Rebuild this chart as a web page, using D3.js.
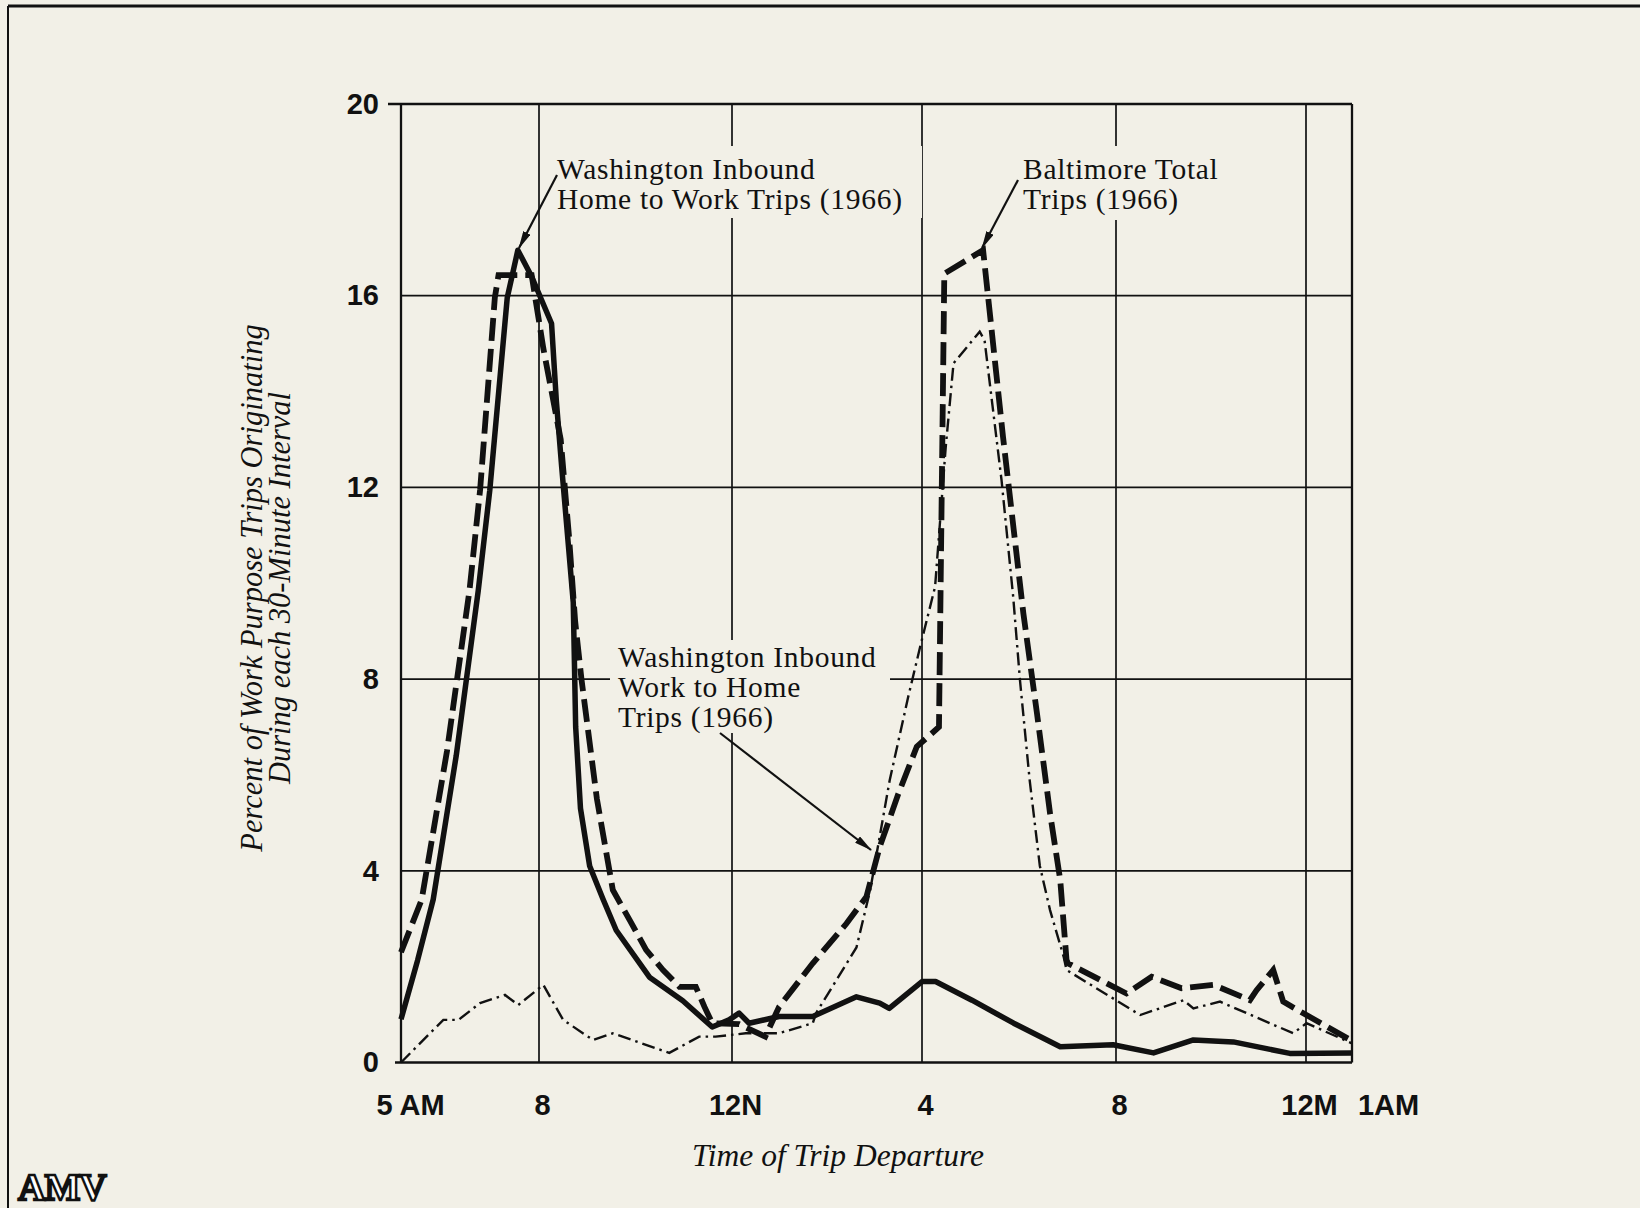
<!DOCTYPE html>
<html>
<head>
<meta charset="utf-8">
<script src="https://cdn.jsdelivr.net/npm/d3@7"></script>
<style>
  body { margin: 0; background: #f2f0e7; }
  svg { display: block; }
</style>
</head>
<body>
<svg id="chart" width="1640" height="1208"></svg>
<script>
// x is hours after 5 AM, y is percent of trips
var tickHours = [0, 3, 7, 11, 15, 19, 20];
var tickLabels = ["5 AM", "8", "12N", "4", "8", "12M", "1AM"];
var yTicks = [0, 4, 8, 12, 16, 20];

// Washington inbound, home to work (solid)
var h2wTime  = [0, 0.36, 0.7, 1.2, 1.68, 1.93, 2.31, 2.54, 2.84, 3.26, 3.36, 3.47, 3.71, 3.76, 3.86, 4.05, 4.33, 4.6, 5.29, 5.98, 6.59, 6.94, 7.15, 7.36, 7.99, 8.7, 9.62, 10.11, 10.31, 11.0, 11.28, 12.03, 12.89, 13.85, 14.94, 15.79, 16.63, 17.47, 18.66, 20];
var h2wValue = [0.9, 2.13, 3.4, 6.4, 9.85, 11.94, 15.96, 16.95, 16.4, 15.42, 13.8, 12.43, 9.6, 7.0, 5.3, 4.1, 3.4, 2.76, 1.78, 1.29, 0.74, 0.89, 1.03, 0.82, 0.96, 0.96, 1.37, 1.24, 1.13, 1.69, 1.69, 1.3, 0.82, 0.33, 0.37, 0.2, 0.47, 0.43, 0.19, 0.2];

// Baltimore total (dashed)
var baltTime  = [0, 0.45, 1.0, 1.49, 1.72, 2.04, 2.12, 2.84, 3.09, 3.45, 3.62, 3.75, 3.88, 4.2, 4.53, 4.88, 5.22, 5.57, 5.91, 6.25, 6.43, 6.59, 7.15, 7.7, 7.99, 8.7, 9.41, 9.83, 10.11, 10.5, 10.89, 11.35, 11.46, 12.26, 12.67, 13.09, 13.37, 13.64, 13.85, 13.98, 14.01, 15.22, 15.75, 16.38, 17.05, 17.82, 17.96, 18.31, 18.52, 19.01, 20];
var baltValue = [2.3, 3.4, 6.5, 9.86, 11.95, 15.96, 16.43, 16.43, 14.9, 13.0, 11.0, 9.2, 8.0, 5.5, 3.6, 2.97, 2.35, 1.93, 1.58, 1.58, 1.16, 0.82, 0.8, 0.54, 1.16, 2.07, 2.9, 3.46, 4.5, 5.6, 6.59, 7.0, 16.46, 16.95, 13.06, 9.37, 7.29, 5.2, 3.81, 2.14, 2.07, 1.44, 1.79, 1.55, 1.62, 1.3, 1.51, 1.93, 1.27, 0.99, 0.45];

// Washington inbound, work to home (dash-dot)
var w2hTime  = [0, 0.92, 1.25, 1.72, 2.26, 2.55, 3.09, 3.23, 3.5, 4.12, 4.53, 5.7, 6.32, 6.66, 7.29, 7.99, 8.7, 8.77, 9.62, 9.91, 10.32, 10.71, 10.96, 11.27, 11.49, 11.65, 12.19, 12.29, 12.64, 12.88, 13.02, 13.22, 13.43, 13.64, 13.92, 13.98, 15.51, 16.42, 16.63, 17.19, 18.73, 19.01, 20];
var w2hValue = [0, 0.89, 0.89, 1.24, 1.41, 1.2, 1.62, 1.37, 0.89, 0.47, 0.61, 0.2, 0.54, 0.54, 0.61, 0.61, 0.82, 1.03, 2.4, 3.6, 5.89, 7.63, 8.67, 9.93, 12.85, 14.59, 15.25, 15.07, 12.15, 9.72, 7.98, 5.89, 4.1, 3.18, 2.21, 1.93, 0.99, 1.3, 1.13, 1.27, 0.61, 0.82, 0.4];

var label1 = ["Washington Inbound", "Home to Work Trips (1966)"];
var label2 = ["Baltimore Total", "Trips (1966)"];
var label3 = ["Washington Inbound", "Work to Home", "Trips (1966)"];
var yTitle = ["Percent of Work Purpose Trips Originating", "During each 30-Minute Interval"];
var xTitle = "Time of Trip Departure";

var bg = "#f2f0e7";
var ink = "#111";
var serif = "Liberation Serif, Times New Roman, serif";
var sans = "Liberation Sans, Arial, sans-serif";

var svg = d3.select("#chart");

// the printed grid is not quite even, so the scale follows the gridlines
var x = d3.scaleLinear().domain(tickHours).range([401, 539, 732, 922, 1116, 1306, 1352]);
var y = d3.scaleLinear().domain([0, 20]).range([1062.5, 104]);

// page frame
svg.append("line").attr("x1", 8).attr("x2", 1640).attr("y1", 6).attr("y2", 6)
   .attr("stroke", ink).attr("stroke-width", 3);
svg.append("line").attr("x1", 8).attr("x2", 8).attr("y1", 6).attr("y2", 1208)
   .attr("stroke", ink).attr("stroke-width", 2);

// grid
var grid = svg.append("g").attr("stroke", ink).attr("stroke-width", 1.7);
grid.selectAll(".vg").data(tickHours.slice(1, -1)).enter().append("line")
    .attr("x1", function(d) { return x(d); }).attr("x2", function(d) { return x(d); })
    .attr("y1", y(0)).attr("y2", y(20));
grid.selectAll(".hg").data(yTicks.slice(1, -1)).enter().append("line")
    .attr("x1", x(0)).attr("x2", x(20))
    .attr("y1", function(d) { return y(d); }).attr("y2", function(d) { return y(d); });

// frame of the plot
var frame = svg.append("g").attr("stroke", ink).attr("stroke-width", 2.3);
frame.append("line").attr("x1", x(0) - 13).attr("x2", x(20)).attr("y1", y(20)).attr("y2", y(20));
frame.append("line").attr("x1", x(0) - 6).attr("x2", x(20)).attr("y1", y(0)).attr("y2", y(0));
frame.append("line").attr("x1", x(0)).attr("x2", x(0)).attr("y1", y(0)).attr("y2", y(20));
frame.append("line").attr("x1", x(20)).attr("x2", x(20)).attr("y1", y(0)).attr("y2", y(20));

// y axis labels
var yAxis = d3.axisLeft(y).tickValues(yTicks).tickSize(0).tickPadding(22);
var yg = svg.append("g").attr("transform", "translate(" + x(0) + ",0)").call(yAxis);
yg.select(".domain").remove();
yg.selectAll("text").attr("font-family", sans)
  .attr("font-weight", "bold").attr("font-size", 29).attr("fill", ink);

// x axis labels
var xAxis = d3.axisBottom(x).tickValues(tickHours).tickSize(0).tickPadding(32)
  .tickFormat(function(d, i) { return tickLabels[i]; });
var xg = svg.append("g").attr("transform", "translate(0," + y(0) + ")").call(xAxis);
xg.select(".domain").remove();
xg.selectAll("text").attr("font-family", sans)
  .attr("font-weight", "bold").attr("font-size", 29).attr("fill", ink)
  .attr("dx", function(d, i) { return i === 0 ? 9 : (i === tickLabels.length - 1 ? 36 : 3); });

// blank boxes behind the labels
var boxes = [[550, 146, 372, 72], [1015, 146, 220, 74], [610, 640, 280, 93]];
svg.selectAll(".box").data(boxes).enter().append("rect")
   .attr("x", function(d) { return d[0]; }).attr("y", function(d) { return d[1]; })
   .attr("width", function(d) { return d[2]; }).attr("height", function(d) { return d[3]; })
   .attr("fill", bg);

// series
function series(t, v) {
  return t.map(function(h, i) { return [h, v[i]]; });
}
var line = d3.line()
  .x(function(d) { return x(d[0]); })
  .y(function(d) { return y(d[1]); });

svg.append("path").datum(series(w2hTime, w2hValue)).attr("d", line)
   .attr("fill", "none").attr("stroke", ink).attr("stroke-width", 2.4)
   .attr("stroke-dasharray", "13,5,2.5,5");
svg.append("path").datum(series(h2wTime, h2wValue)).attr("d", line)
   .attr("fill", "none").attr("stroke", ink).attr("stroke-width", 5.5)
   .attr("stroke-linejoin", "round");
svg.append("path").datum(series(baltTime, baltValue)).attr("d", line)
   .attr("fill", "none").attr("stroke", ink).attr("stroke-width", 5.8)
   .attr("stroke-dasharray", "23,8");

// annotations, one text per line
function addLabel(lines, left, base, gap) {
  svg.selectAll(null).data(lines).enter().append("text")
    .attr("x", left).attr("y", function(d, i) { return base + i * gap; })
    .attr("font-family", serif).attr("font-size", 29.5).attr("letter-spacing", 0.7)
    .attr("fill", ink).text(function(d) { return d; });
}
addLabel(label1, 557, 179, 29.5);
addLabel(label2, 1023, 179, 29.5);
addLabel(label3, 618, 667, 30);

svg.append("defs").append("marker").attr("id", "head")
   .attr("markerUnits", "userSpaceOnUse").attr("markerWidth", 18).attr("markerHeight", 8)
   .attr("refX", 17).attr("refY", 4).attr("orient", "auto")
   .append("path").attr("d", "M0,0 L18,4 L0,8 Z").attr("fill", ink);

var arrows = [[557, 175, 519, 248], [1018, 180, 982, 248], [720, 733, 871, 850]];
svg.selectAll(".arrow").data(arrows).enter().append("line")
   .attr("x1", function(d) { return d[0]; }).attr("y1", function(d) { return d[1]; })
   .attr("x2", function(d) { return d[2]; }).attr("y2", function(d) { return d[3]; })
   .attr("stroke", ink).attr("stroke-width", 2.2).attr("marker-end", "url(#head)");

// axis titles
svg.append("text").attr("x", 838).attr("y", 1166).attr("text-anchor", "middle")
   .attr("font-family", serif).attr("font-style", "italic")
   .attr("font-size", 31.5).attr("fill", ink).text(xTitle);

yTitle.forEach(function(s, i) {
  svg.append("text").attr("transform", "translate(" + (262 + i * 28) + ",588) rotate(-90)")
     .attr("text-anchor", "middle")
     .attr("font-family", serif).attr("font-style", "italic")
     .attr("font-size", 30.5).attr("fill", ink).text(s);
});

// printer's mark
svg.append("text").attr("x", 18).attr("y", 1200)
   .attr("font-family", serif).attr("font-weight", "bold")
   .attr("font-size", 38).attr("letter-spacing", -1)
   .attr("fill", "#fff").attr("stroke", ink).attr("stroke-width", 2.4).text("AMV");
</script>
</body>
</html>
